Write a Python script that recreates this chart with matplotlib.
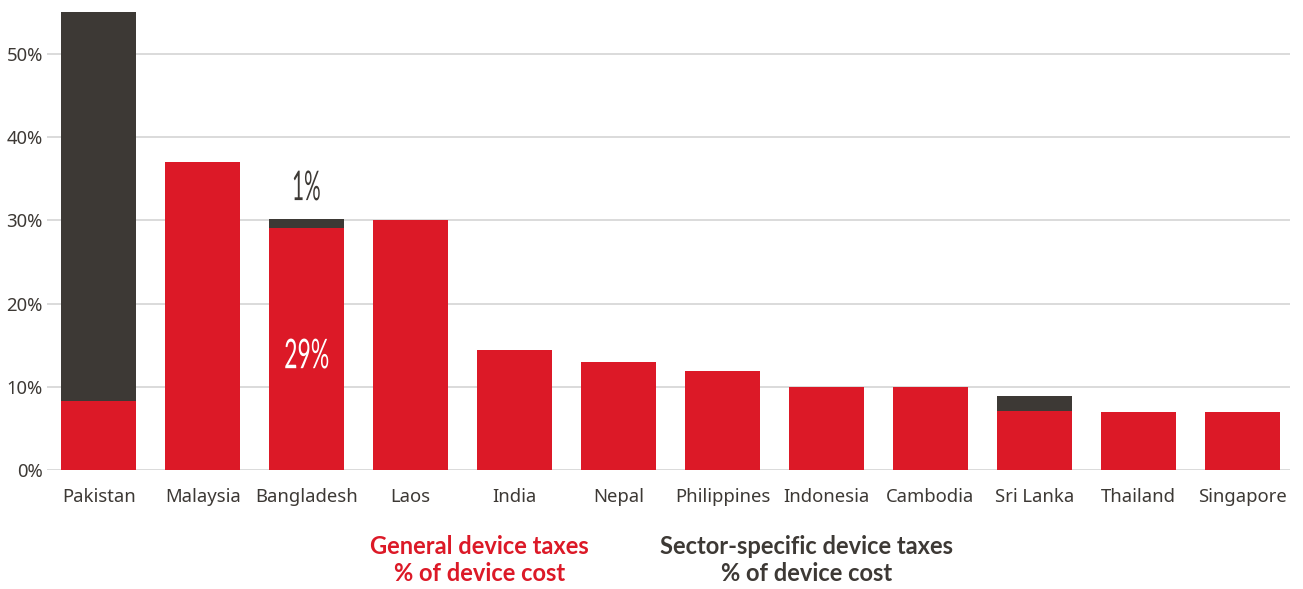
import matplotlib
matplotlib.use("Agg")
import matplotlib.pyplot as plt
import matplotlib.transforms as mtransforms
from matplotlib.textpath import TextPath
from matplotlib.patches import PathPatch
from matplotlib.font_manager import FontProperties
import numpy as np

# data
countries = ["Pakistan", "Malaysia", "Bangladesh", "Laos", "India", "Nepal",
             "Philippines", "Indonesia", "Cambodia", "Sri Lanka", "Thailand", "Singapore"]
general = [8.3, 37.0, 29.1, 30.0, 14.4, 13.0, 11.9, 10.0, 10.0, 7.1, 7.0, 7.0]
sector = [46.7, 0.0, 1.1, 0.0, 0.0, 0.0, 0.0, 0.0, 0.0, 1.8, 0.0, 0.0]
yticks = [0, 10, 20, 30, 40, 50]

RED = "#dc1927"
DARK = "#3d3935"
GRID = "#d4d4d4"

plt.rcParams["font.family"] = ["Noto Sans", "DejaVu Sans"]

fig = plt.figure(figsize=(13.03, 5.89), dpi=100)
ax = fig.add_axes([0.036, 0.202, 0.954, 0.777])

x = np.arange(len(countries))
ax.bar(x, general, width=0.72, color=RED, zorder=3)
ax.bar(x, sector, width=0.72, bottom=general, color=DARK, zorder=3)

ax.set_xlim(-0.5, 11.46)
ax.set_ylim(0, 55)
ax.set_yticks(yticks)
ax.set_yticklabels([f"{v}%" for v in yticks])
ax.set_xticks(x)
ax.set_xticklabels(countries)
ax.tick_params(axis="both", length=0, labelsize=13.3, colors=DARK)
ax.tick_params(axis="x", pad=13)
ax.tick_params(axis="y", pad=3)
ax.grid(axis="y", color=GRID, linewidth=1.2, zorder=0)
for s in ax.spines.values():
    s.set_visible(False)


def narrow_label(xd, yd, s, w_px, h_px, color):
    # condensed numeral label: glyph outline squeezed to the given pixel box
    tp = TextPath((0, 0), s, size=10, prop=FontProperties(family="Lato", weight="normal"))
    bb = tp.get_extents()
    tr = (mtransforms.Affine2D()
          .translate(-(bb.x0 + bb.x1) / 2, -(bb.y0 + bb.y1) / 2)
          .scale(w_px / bb.width, h_px / bb.height)
          + mtransforms.ScaledTranslation(xd, yd, ax.transData))
    ax.add_patch(PathPatch(tp, transform=tr, facecolor=color, edgecolor="none",
                           clip_on=False, zorder=5))


# Bangladesh annotations
narrow_label(2, 34.2, "1%", 26, 30, DARK)
narrow_label(2, 14.0, "29%", 43, 30, "white")

# legend-like captions
cap = dict(ha="center", va="bottom", fontsize=17, fontweight="bold",
           linespacing=1.25, family=["Lato", "DejaVu Sans"])
fig.text(0.368, 0.006, "General device taxes\n% of device cost", color=RED, **cap)
fig.text(0.619, 0.006, "Sector-specific device taxes\n% of device cost", color=DARK, **cap)

fig.savefig("out.png", dpi=100)
